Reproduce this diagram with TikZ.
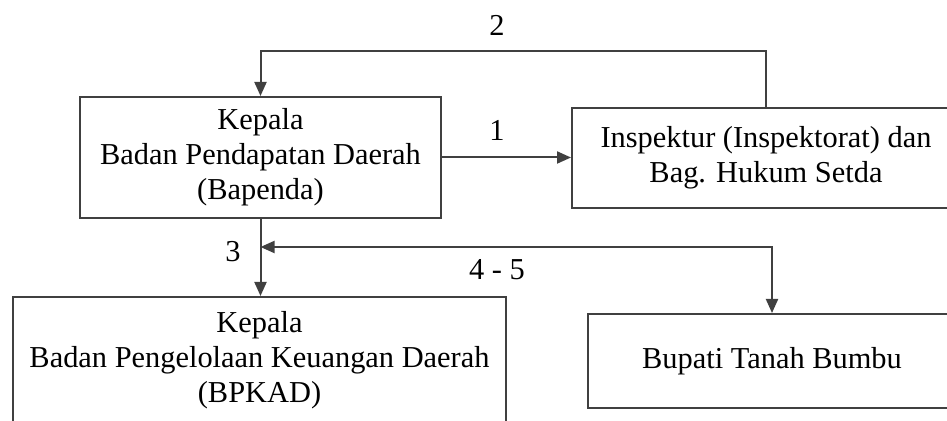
\documentclass[tikz,border=0pt]{standalone}
\usepackage{fontspec}
\setmainfont{Liberation Serif}
\usetikzlibrary{positioning, arrows.meta}

\tikzset{
    box/.style={draw=black!75, line width=1pt, rectangle, align=center,
        font=\fontsize{15.2}{17.5}\selectfont, inner sep=0pt},
    num/.style={font=\fontsize{15.2}{17}\selectfont},
    tip/.style={-{Triangle[length=7pt,width=6pt]}},
    conn/.style={draw=black!75, line width=1pt, tip}
}

\begin{document}
\begin{tikzpicture}[x=0.5pt, y=-0.5pt]
    \useasboundingbox (0,0) rectangle (947,421);
    \clip (0,0) rectangle (947,421);

    %Nodes
    \node[box, minimum width=180.5pt, minimum height=60.5pt] at (260.5,157.5) (bapenda)
        {Kepala\\Badan Pendapatan Daerah\\(Bapenda)};
    \node[box, minimum width=194pt, minimum height=50pt] at (766,158) (inspektur)
        {Inspektur (Inspektorat) dan\\Bag. Hukum Setda};
    \node[box, minimum width=246.5pt, minimum height=63pt] at (259.5,360) (bpkad)
        {Kepala\\Badan Pengelolaan Keuangan Daerah\\(BPKAD)};
    \node[box, minimum width=184pt, minimum height=47pt] at (772,361) (bupati)
        {Bupati Tanah Bumbu};

    \node[num] at (497,130) (n1) {1};
    \node[num] at (497,25) (n2) {2};
    \node[num] at (233,252) (n3) {3};
    \node[num] at (497,270) (n45) {4 - 5};

    \coordinate (jct) at (bapenda.south |- 0,247);

    %Lines
    \draw[conn] (bapenda.east) -- (bapenda.east -| inspektur.west);
    \draw[conn] (inspektur.north) -- ++(0,-56) -| (bapenda.north);
    \draw[conn] (bapenda.south) -- (bapenda.south |- bpkad.north);
    \draw[conn, {Triangle[length=7pt,width=6pt]}-{Triangle[length=7pt,width=6pt]}] (jct) -| (bupati.north);
\end{tikzpicture}
\end{document}
